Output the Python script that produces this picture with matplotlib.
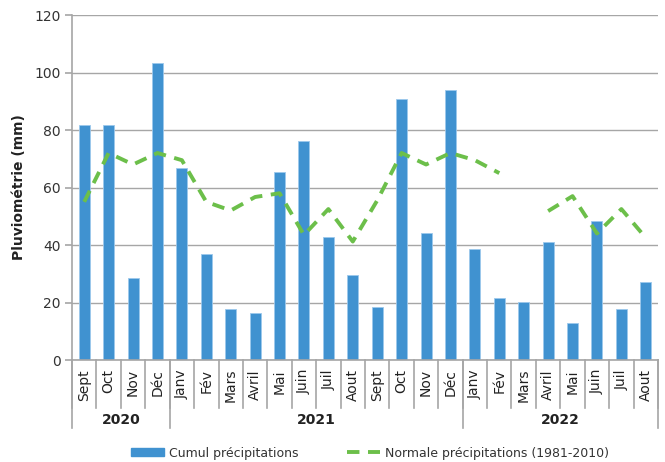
import matplotlib
matplotlib.use("Agg")
import matplotlib.pyplot as plt
from matplotlib.patches import Patch
from matplotlib.lines import Line2D
import numpy as np

plt.rcParams['font.family'] = ['DejaVu Sans']

# Months from Sept 2020 to Aout 2022
months = ["Sept", "Oct", "Nov", "Déc",
          "Janv", "Fév", "Mars", "Avril", "Mai", "Juin", "Juil", "Aout",
          "Sept", "Oct", "Nov", "Déc",
          "Janv", "Fév", "Mars", "Avril", "Mai", "Juin", "Juil", "Aout"]
years = ["2020", "2021", "2022"]
year_counts = [4, 12, 8]

cumul = [81.7, 81.8, 28.5, 103.3,
         66.7, 36.7, 17.8, 16.4, 65.4, 76.3, 42.9, 29.7,
         18.4, 90.7, 44.2, 93.9,
         38.6, 21.5, 20.3, 41.1, 12.7, 48.5, 17.8, 27.2]
normale = [55.0, 72.0, 68.0, 72.0,
           69.5, 55.0, 52.0, 56.7, 58.0, 43.5, 52.5, 41.2,
           55.5, 72.0, 68.0, 72.0,
           69.5, 65.0, np.nan, 51.8, 57.0, 44.0, 52.5, 42.5]

blue = "#4092d0"
green = "#6cbf4a"
grey = "#a6a6a6"
txt = "#333333"

fig = plt.figure(figsize=(6.65, 4.62), dpi=100)
W, H = 665, 462
L, R, T, B = 72, 658, 15, 360
ax = fig.add_axes([L / W, 1 - B / H, (R - L) / W, (B - T) / H])

x = np.arange(len(months))
ax.bar(x, cumul, width=0.45, color=blue, edgecolor="#9cc8ec", linewidth=0.6, zorder=3)
ax.plot(x, normale, color=green, lw=2.8, dashes=(3.2, 2.2), zorder=4)

ax.set_xlim(-0.5, len(months) - 0.5)
ax.set_ylim(0, 120)
ax.set_yticks(range(0, 121, 20))
ax.yaxis.grid(True, color=grey, lw=1.0, zorder=0)
ax.set_axisbelow(True)
for s in ["top", "right", "bottom"]:
    ax.spines[s].set_visible(False)
ax.spines["left"].set_color(grey)
ax.spines["left"].set_linewidth(1.2)
ax.tick_params(axis="y", length=5, color=grey, width=1.2, labelsize=10, labelcolor=txt, pad=3)
ax.tick_params(axis="x", length=0, labelbottom=False)
ax.set_ylabel("Pluviométrie (mm)", fontsize=10, fontweight="bold", color="#222222", labelpad=6)

# category axis
tr = ax.get_xaxis_transform()
hpx = B - T
ax.plot([-0.5, len(months) - 0.5], [0, 0], transform=tr, color=grey, lw=1.2, clip_on=False, zorder=5)
for i, m in enumerate(months):
    ax.text(i, -9 / hpx, m, rotation=90, ha="center", va="top", fontsize=10,
            color="#222222", transform=tr)
for i in range(len(months) + 1):
    ax.plot([i - 0.5, i - 0.5], [0, -48 / hpx], transform=tr, color=grey, lw=1.2, clip_on=False)
start = 0
ax.plot([-0.5, -0.5], [0, -68 / hpx], transform=tr, color=grey, lw=1.2, clip_on=False)
for yname, n in zip(years, year_counts):
    end = start + n
    ax.plot([end - 0.5, end - 0.5], [0, -68 / hpx], transform=tr, color=grey, lw=1.2, clip_on=False)
    ax.text((start + end - 1) / 2, -60 / hpx, yname, ha="center", va="center", fontsize=10,
            fontweight="bold", color="#222222", transform=tr)
    start = end

handles = [Patch(facecolor=blue, edgecolor=blue),
           Line2D([0], [0], color=green, lw=2.8, dashes=(3.2, 2.2))]
fig.legend(handles, ["Cumul précipitations", "Normale précipitations (1981-2010)"],
           loc="center", bbox_to_anchor=(370 / W, 1 - 453 / H), ncol=2, frameon=False,
           fontsize=9, handlelength=2.6, handleheight=0.6, columnspacing=3.9, handletextpad=0.4,
           labelcolor="#333333")

fig.savefig("out.png", dpi=100)
